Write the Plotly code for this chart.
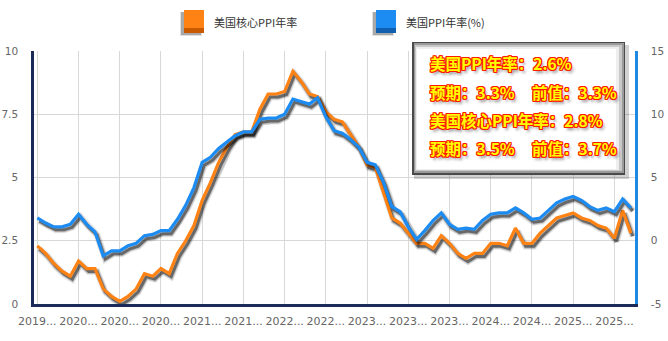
import plotly.graph_objects as go
import pandas as pd

# ---------------- data ----------------
months = [d.strftime("%Y-%m") for d in pd.date_range("2019-09-01", "2025-09-01", freq="MS")]

core_ppi = [2.3, 2.0, 1.6, 1.3, 1.1, 1.7, 1.4, 1.4, 0.6, 0.3,
            0.1, 0.3, 0.6, 1.2, 1.1, 1.4, 1.2, 2.0, 2.5, 3.1,
            4.1, 4.8, 5.6, 6.2, 6.7, 6.8, 6.8, 7.7, 8.3, 8.3,
            8.4, 9.2, 8.8, 8.3, 8.2, 7.6, 7.3, 7.2, 6.7, 6.2,
            5.5, 5.4, 4.4, 3.4, 3.2, 2.8, 2.4, 2.4, 2.2, 2.7,
            2.4, 2.0, 1.8, 2.0, 2.0, 2.4, 2.4, 2.3, 3.0, 2.4,
            2.4, 2.8, 3.1, 3.4, 3.5, 3.6, 3.4, 3.3, 3.1, 3.0,
            2.6, 3.7, 2.8]

ppi = [1.8, 1.4, 1.1, 1.1, 1.3, 2.1, 1.3, 0.7, -1.2, -0.8,
       -0.8, -0.4, -0.2, 0.4, 0.5, 0.8, 0.8, 1.7, 2.8, 4.2,
       6.2, 6.6, 7.3, 7.8, 8.3, 8.6, 8.6, 9.6, 9.7, 9.7,
       10.0, 11.2, 11.0, 10.8, 11.3, 9.8, 8.7, 8.5, 8.0, 7.4,
       6.2, 6.0, 4.6, 2.7, 2.3, 1.1, 0.1, 0.8, 1.6, 2.2,
       1.3, 0.9, 1.0, 0.9, 1.6, 2.1, 2.2, 2.2, 2.6, 2.2,
       1.7, 1.8, 2.4, 3.0, 3.3, 3.5, 3.2, 2.7, 2.4, 2.6,
       2.3, 3.3, 2.6]

ppi_expected = 3.3
core_expected = 3.5

left_ticks = [0, 2.5, 5, 7.5, 10]
left_ticktext = ["0", "2.5", "5", "7.5", "10"]
right_ticks = [-5, 0, 5, 10, 15]
right_ticktext = ["-5", "0", "5", "10", "15"]
tick_step = 5

name_core = "美国核心PPI年率"
name_ppi = "美国PPI年率(%)"

# ---------------- layout geometry (pixels) ----------------
W, H = 668, 341
L, R, T, B = 34, 635, 51, 304
x_range = [-0.4, 72.5]
y_range = [0, 10]
y2_range = [-5, 15]

def px(x):
    return (x - L) / (R - L)

def py(y):
    return (B - y) / (B - T)

x = list(range(len(months)))
# shadow offsets (pixels -> data units)
dx = 2.0 * (x_range[1] - x_range[0]) / (R - L)
dy1 = 3.0 * (y_range[1] - y_range[0]) / (B - T)
dy2 = 3.0 * (y2_range[1] - y2_range[0]) / (B - T)

ORANGE = "#ff8215"
BLUE = "#1c8cf2"

fig = go.Figure()

# shadows
for w, a in [(7, 0.09), (5, 0.18), (3, 0.45)]:
    fig.add_trace(go.Scatter(x=[v + dx for v in x], y=[v - dy1 for v in core_ppi], mode="lines",
                             line=dict(color=f"rgba(0,0,0,{a})", width=w), hoverinfo="skip", yaxis="y"))
    fig.add_trace(go.Scatter(x=[v + dx for v in x], y=[v - dy2 for v in ppi], mode="lines",
                             line=dict(color=f"rgba(0,0,0,{a})", width=w), hoverinfo="skip", yaxis="y2"))

fig.add_trace(go.Scatter(x=x, y=core_ppi, mode="lines", name=name_core,
                         line=dict(color=ORANGE, width=3.2), yaxis="y"))
fig.add_trace(go.Scatter(x=x, y=ppi, mode="lines", name=name_ppi,
                         line=dict(color=BLUE, width=3.2), yaxis="y2"))

tickvals = list(range(0, len(months), tick_step))
ticktext = [months[i][:4] + "..." for i in tickvals]

tickfont = dict(family="DejaVu Sans", size=11, color="#666666")
ytickfont = dict(family="DejaVu Sans", size=10.5, color="#666666")

fig.update_layout(
    width=W, height=H,
    margin=dict(l=L, r=W - R, t=T, b=H - B, autoexpand=False),
    paper_bgcolor="white", plot_bgcolor="white",
    showlegend=False,
    xaxis=dict(range=x_range, tickmode="array", tickvals=tickvals, ticktext=ticktext,
               tickangle=0, automargin=False,
               showgrid=True, gridcolor="#d8d8d8", gridwidth=1, zeroline=False,
               showline=True, linecolor="#1c2a58", linewidth=3,
               ticks="", tickfont=tickfont, ticklabelstandoff=5),
    yaxis=dict(range=y_range, tickmode="array", tickvals=left_ticks, ticktext=left_ticktext,
               automargin=False,
               showgrid=True, gridcolor="#d8d8d8", gridwidth=1, zeroline=False,
               showline=True, linecolor="#1c2a58", linewidth=2.5,
               ticks="", tickfont=ytickfont, ticklabelstandoff=11),
    yaxis2=dict(range=y2_range, tickmode="array", tickvals=right_ticks, ticktext=right_ticktext,
                overlaying="y", side="right", automargin=False,
                showgrid=False, zeroline=False, showline=True, linecolor="#1e88e5", linewidth=2.5,
                ticks="", tickfont=ytickfont, ticklabelstandoff=11),
)

shapes = []
annotations = []

def rect(x0, y0, x1, y1, fill, line_color=None, line_width=0, layer="above"):
    shapes.append(dict(type="rect", xref="paper", yref="paper",
                       x0=px(x0), x1=px(x1), y0=py(y1), y1=py(y0),
                       fillcolor=fill, layer=layer,
                       line=dict(color=line_color or "rgba(0,0,0,0)", width=line_width)))

# ---------------- legend (drawn) ----------------
legend_items = [(184, name_core, ORANGE, "#c95a00"), (376, name_ppi, BLUE, "#1160b0")]
for lx, name, c, dark in legend_items:
    rect(lx - 4, 12, lx + 18, 36, "rgba(0,0,0,0.12)")
    rect(lx - 3, 12, lx + 17, 35, "rgba(0,0,0,0.25)")
    rect(lx, 10, lx + 20, 33, dark)
    rect(lx, 10, lx + 20, 28, c)
    annotations.append(dict(xref="paper", yref="paper", x=px(lx + 28), y=py(22),
                            xanchor="left", yanchor="middle", showarrow=False, text=name,
                            font=dict(family="Noto Sans CJK SC", size=11, color="#333333")))

# ---------------- info box ----------------
bx0, by0, bx1, by1 = 412, 42, 625, 175
rect(bx0 + 2, by0 + 3, bx1 + 4, by1 + 4, "rgba(0,0,0,0.18)")
rect(bx0, by0, bx1, by1, "#4a4a4a")
rect(bx0 + 2, by0 + 1, bx1 - 1, by1 - 2, "#9a9a9a")
rect(bx0 + 3, by0 + 3, bx1 - 3, by1 - 4, "#c8c8c8")
rect(bx0 + 4, by0 + 5, bx1 - 6, by1 - 5, "#eeeeee")
rect(bx0 + 5, by0 + 7, bx1 - 9, by1 - 6, "white")

red = "#ff1a00"
outline = ", ".join(f"{a}px {b}px 0 {red}" for a, b in
                    [(1, 0), (-1, 0), (0, 1), (0, -1), (1, 1), (-1, -1), (1, -1), (-1, 1)])
shadow = outline + ", 2px 3px 3px rgba(0,0,0,0.45)"
box_font = dict(family="Noto Sans CJK SC", size=15.5, color="#ffff00", weight="bold", shadow=shadow)

box_texts = [
    (428, 63, f"美国PPI年率：{ppi[-1]}%"),
    (428, 92, f"预期：{ppi_expected}%"),
    (530, 92, f"前值：{ppi[-2]}%"),
    (428, 120, f"美国核心PPI年率：{core_ppi[-1]}%"),
    (428, 148, f"预期：{core_expected}%"),
    (530, 148, f"前值：{core_ppi[-2]}%"),
]
for tx, ty, t in box_texts:
    annotations.append(dict(xref="paper", yref="paper", x=px(tx), y=py(ty),
                            xanchor="left", yanchor="middle", showarrow=False, text=t,
                            font=box_font))

fig.update_layout(shapes=shapes, annotations=annotations)

fig.write_html("out.html")
